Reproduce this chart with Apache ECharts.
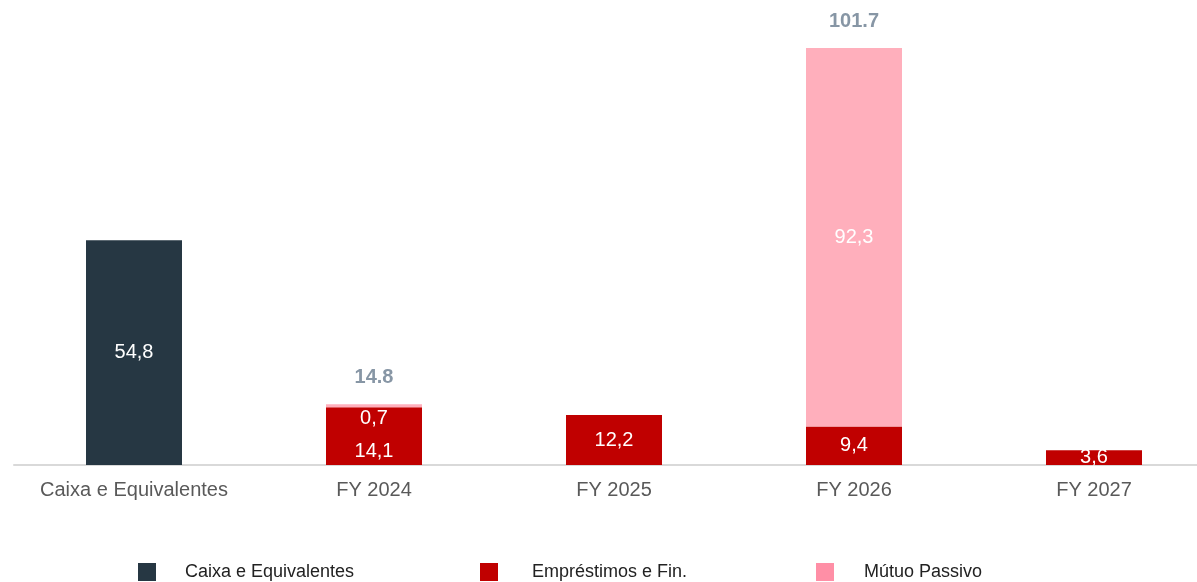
<!DOCTYPE html>
<html>
<head>
<meta charset="utf-8">
<script src="https://cdn.jsdelivr.net/npm/echarts@6/dist/echarts.min.js"></script>
<style>
  html, body { margin: 0; padding: 0; background: #fff; }
  #chart { width: 1197px; height: 582px; }
</style>
</head>
<body>
<div id="chart"></div>
<script>
const categories = ['Caixa e Equivalentes', 'FY 2024', 'FY 2025', 'FY 2026', 'FY 2027']
const caixa = [54.8, null, null, null, null]
const emprestimos = [null, 14.1, 12.2, 9.4, 3.6]
const mutuo = [null, 0.7, null, 92.3, null]
const totals = [null, 14.8, null, 101.7, null]

const fmt = v => String(v).replace('.', ',')
const font = 'Liberation Sans, Arial, sans-serif'

const chart = echarts.init(document.getElementById('chart'))

const insideLabel = {
  show: true,
  color: '#fff',
  fontSize: 20,
  fontFamily: font,
  formatter: p => (p.value == null ? '' : fmt(p.value))
}

// one legend per series so each can sit where the original has it
function legendAt(left, gap, item) {
  return {
    left: left,
    top: 563,
    padding: 0,
    itemWidth: 18,
    itemHeight: 18,
    icon: 'rect',
    selectedMode: false,
    data: [item],
    textStyle: { fontSize: 18, color: '#222', fontFamily: font, padding: [0, 0, 0, gap] }
  }
}

chart.setOption({
  animation: false,
  grid: { left: 14, width: 1200, top: 48, bottom: 117, outerBoundsMode: 'none', containLabel: false },
  legend: [
    legendAt(138, 24, 'Caixa e Equivalentes'),
    legendAt(480, 29, 'Empréstimos e Fin.'),
    legendAt(816, 25, { name: 'Mútuo Passivo', itemStyle: { color: '#ff8fa6' } })
  ],
  xAxis: {
    type: 'category',
    data: categories,
    axisLine: { lineStyle: { color: '#d9d9d9', width: 2 } },
    axisTick: { show: false },
    axisLabel: { interval: 0, fontSize: 20, color: '#595959', fontFamily: font, margin: 15 }
  },
  yAxis: {
    type: 'value',
    min: 0,
    max: 101.7,
    show: false,
    splitLine: { show: false }
  },
  series: [
    {
      name: 'Caixa e Equivalentes',
      type: 'bar',
      stack: 'total',
      barWidth: 96,
      data: caixa,
      itemStyle: { color: '#263743' },
      label: insideLabel
    },
    {
      name: 'Empréstimos e Fin.',
      type: 'bar',
      stack: 'total',
      barWidth: 96,
      data: emprestimos.map((v, i) => i === 1
        ? { value: v, label: { offset: [0, 15] } }
        : v),
      itemStyle: { color: '#c00000' },
      label: insideLabel
    },
    {
      name: 'Mútuo Passivo',
      type: 'bar',
      stack: 'total',
      barWidth: 96,
      data: mutuo.map((v, i) => i === 1
        ? { value: v, label: { position: 'bottom', distance: 1 } }
        : v),
      itemStyle: { color: '#ffafbc' },
      label: insideLabel
    },
    {
      name: 'Total',
      type: 'bar',
      stack: 'total',
      barWidth: 96,
      data: totals.map(v => (v == null ? null : 0)),
      itemStyle: { color: 'transparent' },
      label: {
        show: true,
        position: 'top',
        distance: 17,
        fontSize: 20,
        fontWeight: 'bold',
        color: '#8796a5',
        fontFamily: font,
        formatter: p => (totals[p.dataIndex] == null ? '' : String(totals[p.dataIndex]))
      }
    }
  ]
})
</script>
</body>
</html>
